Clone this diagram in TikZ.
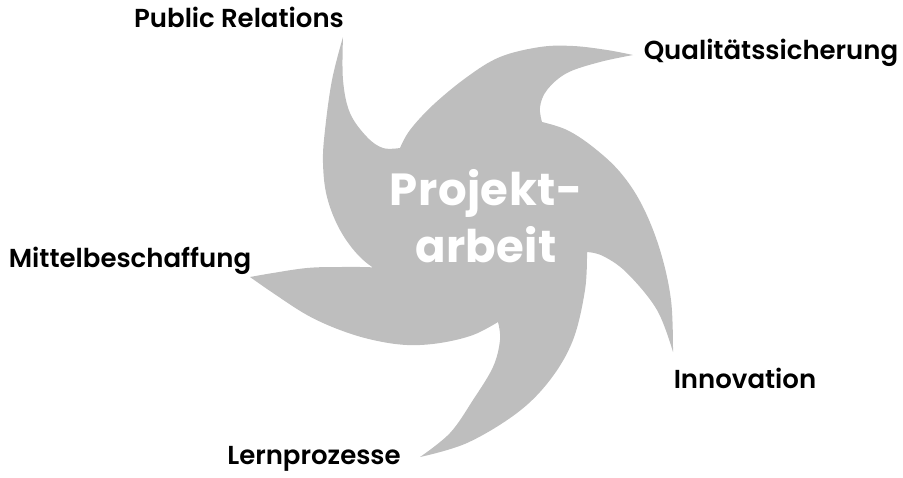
\documentclass[tikz,border=0pt]{standalone}
\usepackage{fontspec}
\setmainfont{Poppins}[BoldFont={* SemiBold}]
\newfontfamily\titlefont{Poppins}[UprightFont={* Bold}]
\usepackage{tikz}
\usetikzlibrary{positioning}
\definecolor{swirlgray}{RGB}{190,190,190}
\tikzset{
  label text/.style={font=\fontsize{26}{30}\selectfont\bfseries, text=black, inner sep=0pt, anchor=base},
  title text/.style={font=\fontsize{45}{54}\titlefont\addfontfeatures{LetterSpace=1}, text=white, inner sep=0pt, anchor=base},
  arm/.style={smooth, tension=0.6}
}
\begin{document}
\begin{tikzpicture}[x=1pt,y=-1pt]
\useasboundingbox (0,0) rectangle (903,477);
% five armed swirl
\fill[swirlgray] (403,275)
  -- plot[arm] coordinates {(403,275) (383,273) (360,257) (340,230) (327,197) (323,163) (325,130) (332,80) (343,37)}
  -- plot[arm] coordinates {(343,37) (343,80) (350,113) (367,137) (383,148) (400,148)}
  -- plot[arm] coordinates {(400,148) (410,130) (433,105) (467,77) (500,57) (540,47) (573,46) (607,50) (633,55)}
  -- plot[arm] coordinates {(633,55) (600,62) (567,73) (547,90) (540,107) (542,122)}
  -- plot[arm] coordinates {(542,122) (567,130) (593,147) (620,172) (642,205) (660,250) (671,300) (673,352)}
  -- plot[arm] coordinates {(673,352) (657,310) (627,273) (603,256) (587,252)}
  -- plot[arm] coordinates {(587,252) (585,290) (573,340) (550,380) (517,413) (467,443) (420,457)}
  -- plot[arm] coordinates {(420,457) (450,433) (473,400) (493,367) (500,340) (498,322)}
  -- plot[arm] coordinates {(498,322) (473,335) (440,343) (407,345) (373,340) (340,330) (307,315) (273,293) (250,277)}
  -- plot[arm] coordinates {(250,277) (273,273) (307,268) (340,267) (380,268) (403,275)}
  -- cycle;
\node[title text] (proj) at (486,205) {Projekt-};
\node[title text] (arb) at (486,262) {arbeit};
\node[label text] (pr) at (239,27) {Public Relations};
\node[label text] (qs) at (771,59) {Qualitätssicherung};
\node[label text] (mb) at (130,267) {Mittelbeschaffung};
\node[label text] (inn) at (745,388) {Innovation};
\node[label text] (lp) at (314,464) {Lernprozesse};
\end{tikzpicture}
\end{document}
